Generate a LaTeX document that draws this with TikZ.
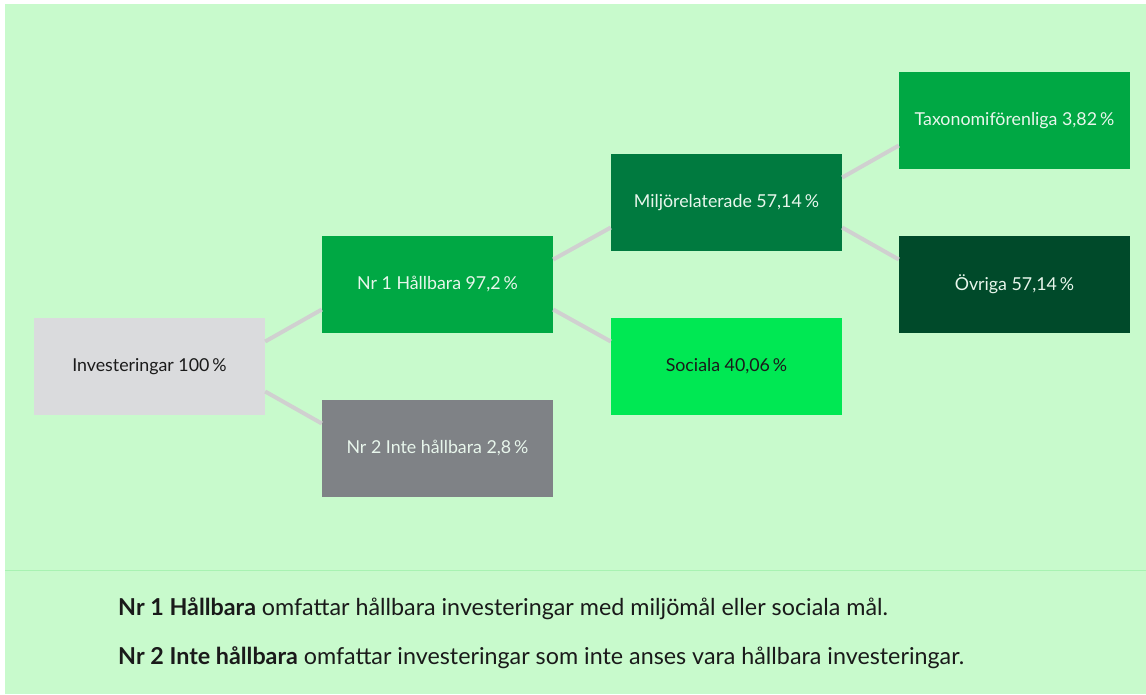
\documentclass[tikz,border=0pt]{standalone}
\usepackage{fontspec}
\setmainfont{Lato}
\usepackage{xcolor}
\usepackage{tikz}
\usetikzlibrary{positioning}

\definecolor{bgmint}{HTML}{C8FACC}
\definecolor{rulemint}{HTML}{A8F2B2}
\definecolor{linkgray}{HTML}{D0D0D0}
\definecolor{boxlight}{HTML}{DADBDD}
\definecolor{boxgray}{HTML}{7F8286}
\definecolor{boxmid}{HTML}{00A844}
\definecolor{boxdark}{HTML}{007A3F}
\definecolor{boxdeep}{HTML}{004A2A}
\definecolor{boxbright}{HTML}{00E853}
\definecolor{inkdark}{HTML}{1A1A1A}
\definecolor{inklight}{HTML}{E8F6EC}

\tikzset{
  box/.style={rectangle,minimum width=231pt,minimum height=97pt,inner sep=0pt,
    font=\fontsize{17.8}{21}\selectfont},
  link/.style={line width=4pt,linkgray},
  note/.style={anchor=base west,inner sep=0pt,text=inkdark,font=\fontsize{23.3}{27}\selectfont}
}

\begin{document}
\begin{tikzpicture}[x=1pt,y=-1pt]

% Background
\fill[white] (0,0) rectangle (1146,694);
\fill[bgmint] (5,4) rectangle (1146,694);
\useasboundingbox (0,0) rectangle (1146,694);

% Column 1
\node[box,fill=boxlight,text=inkdark] (inv) at (149.5,366.5) {Investeringar 100\,\%};

% Column 2
\node[box,fill=boxmid,text=inklight] (nr1) at (437.5,284.5) {Nr 1 Hållbara 97,2\,\%};
\node[box,fill=boxgray,text=inklight] (nr2) at (437.5,448.5) {Nr 2 Inte hållbara 2,8\,\%};

% Column 3
\node[box,fill=boxdark,text=inklight] (miljo) at (726.5,202.5) {Miljörelaterade 57,14\,\%};
\node[box,fill=boxbright,text=inkdark] (sociala) at (726.5,366.5) {Sociala 40,06\,\%};

% Column 4
\node[box,fill=boxmid,text=inklight] (taxo) at (1014.5,120.5) {Taxonomiförenliga 3,82\,\%};
\node[box,fill=boxdeep,text=inklight] (ovriga) at (1014.5,284.5) {Övriga 57,14\,\%};

% Links between boxes
\draw[link] ([yshift=25pt]inv.east) -- ([yshift=-25pt]nr1.west);
\draw[link] ([yshift=-25pt]inv.east) -- ([yshift=25pt]nr2.west);
\draw[link] ([yshift=25pt]nr1.east) -- ([yshift=-25pt]miljo.west);
\draw[link] ([yshift=-25pt]nr1.east) -- ([yshift=25pt]sociala.west);
\draw[link] ([yshift=25pt]miljo.east) -- ([yshift=-25pt]taxo.west);
\draw[link] ([yshift=-25pt]miljo.east) -- ([yshift=25pt]ovriga.west);

% Footer
\draw[rulemint,line width=1pt] (5,570) coordinate (rl) -- (1146,570) coordinate (rr);
\node[note] (def1) at (118,615) {\textbf{Nr 1 Hållbara} omfattar hållbara investeringar med miljömål eller sociala mål.};
\node[note] (def2) at (118,664) {\textbf{Nr 2 Inte hållbara} omfattar investeringar som inte anses vara hållbara investeringar.};

\end{tikzpicture}
\end{document}
